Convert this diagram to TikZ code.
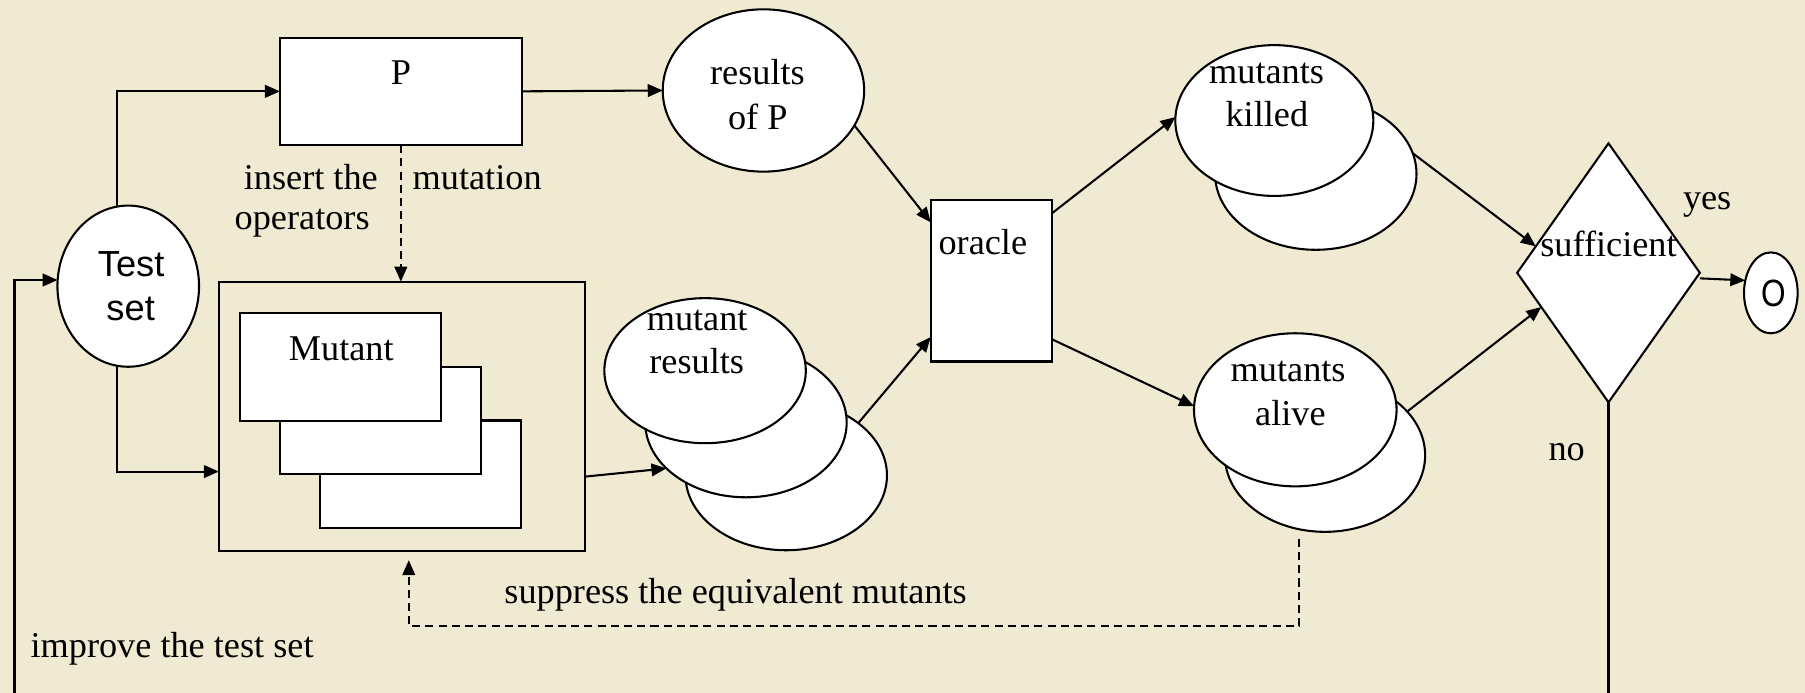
\documentclass[tikz,border=0pt]{standalone}
\usepackage{fontspec}
\setmainfont{Liberation Serif}
\newfontfamily\sansf{Liberation Sans}
\usetikzlibrary{shapes.geometric,arrows.meta,calc}
\definecolor{parchment}{RGB}{241,234,211}
\begin{document}
\begin{tikzpicture}[x=1pt,y=-1pt,
  every node/.style={inner sep=0pt,outer sep=0pt},
  boxnode/.style={rectangle,draw=black,fill=white,line width=1.8pt},
  ellnode/.style={ellipse,draw=black,fill=white,line width=1.8pt},
  lbl/.style={anchor=base,font=\fontsize{31.5}{36}\selectfont},
  slbl/.style={anchor=base,font=\sansf\fontsize{31.5}{36}\selectfont},
  plain/.style={line width=1.8pt},
  flow/.style={line width=1.8pt,-{Triangle[length=13pt,width=11pt]}},
  dashflow/.style={flow,dash pattern=on 7pt off 4.5pt}]

% page
\fill[parchment] (0,0) rectangle (1568,602);
\useasboundingbox (0,0) rectangle (1568,602);

% test set and program
\node[ellnode,minimum width=123pt,minimum height=140pt] (test) at (111.4,248.6) {};
\node[slbl] (testA) at (113.9,239.8) {Test};
\node[slbl] (testB) at (113.5,278) {set};

\node[boxnode,minimum width=210pt,minimum height=93.3pt] (P) at (348.2,79.35) {};
\node[lbl] (Plbl) at (348.2,73) {P};

\node[ellnode,minimum width=175pt,minimum height=141pt] (rp) at (663.2,78.6) {};
\node[lbl] (rpA) at (658,73.3) {results};
\node[lbl] (rpB) at (658.3,112.3) {of P};

% mutant programs
\node[boxnode,fill=none,minimum width=318pt,minimum height=234pt] (outer) at (349.1,361.65) {};
\node[boxnode,minimum width=174.5pt,minimum height=93.4pt] (mut3) at (365.5,412) {};
\node[boxnode,minimum width=174.5pt,minimum height=93.4pt] (mut2) at (330.85,365.4) {};
\node[boxnode,minimum width=174.5pt,minimum height=93.4pt] (mut1) at (295.75,318.7) {};
\node[lbl] (mutlbl) at (296.5,313) {Mutant};

\node[lbl] (insA) at (270,165) {insert the};
\node[lbl] (insB) at (262.5,199) {operators};
\node[lbl] (insC) at (414.5,165) {mutation};

% mutant results
\node[ellnode,minimum width=175pt,minimum height=130pt] (mb) at (683,413) {};
\node[ellnode,minimum width=175pt,minimum height=130pt] (mm) at (648,367) {};
\node[ellnode,minimum width=175pt,minimum height=126pt] (mf) at (612.5,322) {};
\node[lbl] (mfA) at (605.6,286.7) {mutant};
\node[lbl] (mfB) at (605.2,324.3) {results};

% oracle
\node[boxnode,minimum width=105pt,minimum height=140.3pt] (or) at (861,243.85) {};
\node[lbl] (orlbl) at (853.8,221.5) {oracle};

% killed and alive mutants
\node[ellnode,minimum width=175pt,minimum height=132pt] (kb) at (1143,151) {};
\node[ellnode,minimum width=172pt,minimum height=131pt] (kf) at (1107,104.7) {};
\node[lbl] (kfA) at (1100.3,72.4) {mutants};
\node[lbl] (kfB) at (1100.5,110) {killed};

\node[ellnode,minimum width=174pt,minimum height=133pt] (ab) at (1151,395.5) {};
\node[ellnode,minimum width=176pt,minimum height=133pt] (af) at (1125.2,356) {};
\node[lbl] (afA) at (1119,331.5) {mutants};
\node[lbl] (afB) at (1121,369.2) {alive};

% decision and end
\node[diamond,draw=black,fill=white,line width=1.8pt,minimum width=158.7pt,minimum height=225pt] (dia) at (1397.3,237) {};
\node[lbl] (dialbl) at (1397.3,222.4) {sufficient};
\node[lbl] (yes) at (1483,182) {yes};
\node[lbl] (no) at (1361,400) {no};

\node[ellnode,minimum width=46.6pt,minimum height=70.3pt] (oc) at (1538.3,254.4) {};
\node[font=\sansf\fontsize{33}{36}\selectfont] (oclbl) at (1541,254.8) {\scalebox{0.83}[1]{O}};

\node[lbl] (supp) at (639,524.1) {suppress the equivalent mutants};
\node[lbl] (impr) at (149.5,571.5) {improve the test set};

% loose ends leaving the page
\coordinate (noend) at (1397.3,610);
\coordinate (loopend) at (12.6,610);

% connectors
\draw[flow] (test.98) |- (P.west);
\draw[flow] (test.-98) |- ($(outer.west)+(0,48)$);
\draw[flow] (P.east) -- (rp.west);
\draw[dashflow] (P.south) -- (P.south |- outer.north);
\draw[flow] ($(outer.east)+(0,52.4)$) -- (mm.210);
\draw[flow] (rp.-21) -- (or.136);
\draw[flow] (mb.36) -- (or.-137);
\draw[flow] (or.48) -- (kf.178);
\draw[flow] (or.-44) -- (af.178);
\draw[flow] (kb.12) -- (dia.160);
\draw[flow] (ab.28) -- (dia.207);
\draw[flow] ($(dia.east)+(0,4.8)$) -- (oc.154);
\draw[plain] (dia.south) -- (noend);
\draw[flow] (loopend) |- (test.175);
\draw[dashflow] ($(ab.south)+(-22.3,6)$) |- ($(outer.south)+(6,65.2)$) -- ($(outer.south)+(6,8)$);
\end{tikzpicture}
\end{document}
